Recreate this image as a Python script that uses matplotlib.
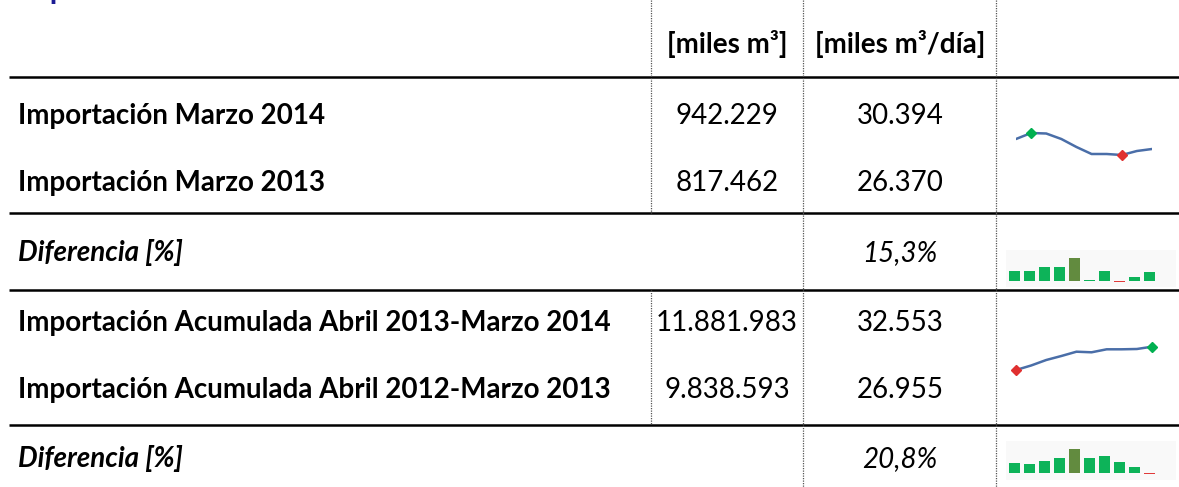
#!/usr/bin/env python3
"""
Tabla de importación con sparklines
"""

import matplotlib.pyplot as plt
import numpy as np

W, H = 1179, 487

row_labels = ["Importación Marzo 2014", "Importación Marzo 2013", "Diferencia [%]",
              "Importación Acumulada Abril 2013-Marzo 2014",
              "Importación Acumulada Abril 2012-Marzo 2013", "Diferencia [%]"]
row_italic = [False, False, True, False, False, True]
col_headers = ["[miles m³]", "[miles m³/día]"]
vol_values = ["942.229", "817.462", "", "11.881.983", "9.838.593", ""]
daily_values = ["30.394", "26.370", "15,3%", "32.553", "26.955", "20,8%"]

# sparkline values (relative units)
spark_marzo = [21, 27, 26.5, 21, 13, 6, 6, 5, 9, 11]
spark_acum = [10, 14.5, 20, 24, 28.3, 27.7, 30.7, 30.7, 31, 33.3]
diff_marzo = [10, 10, 14, 14, 23, 1, 10, -1, 4, 9]
diff_acum = [10, 9, 11.3, 14.7, 23.3, 14.3, 16.7, 10.3, 6, -1]

FONT = "Lato"
LINE_C = "#4a6ea8"
GREEN = "#00b050"
OLIVE = "#5a8535"
RED = "#e03030"


def px_axes(fig, x0, y0, x1, y1):
    """axes placed with pixel box (top-down image coords)"""
    return fig.add_axes([x0 / W, 1 - y1 / H, (x1 - x0) / W, (y1 - y0) / H])


def clean(ax, face=None):
    for s in ax.spines.values():
        s.set_visible(False)
    ax.set_xticks([])
    ax.set_yticks([])
    if face:
        ax.set_facecolor(face)
    else:
        ax.patch.set_alpha(0)


def line_spark(fig, box, vals, ylim):
    ax = px_axes(fig, *box)
    clean(ax)
    x = np.arange(len(vals))
    ax.plot(x, vals, color=LINE_C, lw=1.8, solid_capstyle='round')
    imax, imin = int(np.argmax(vals)), int(np.argmin(vals))
    ax.plot(x[imax], vals[imax], 'D', color=GREEN, ms=5, clip_on=False)
    ax.plot(x[imin], vals[imin], 'D', color=RED, ms=5, clip_on=False)
    ax.set_xlim(0, len(vals) - 1)
    ax.set_ylim(*ylim)


def bar_spark(fig, box, vals, ylim):
    ax = px_axes(fig, *box)
    clean(ax, face="#f9f9f9")
    imax = int(np.argmax(vals))
    colors = [RED if v < 0 else (OLIVE if i == imax else GREEN) for i, v in enumerate(vals)]
    ax.bar(np.arange(len(vals)), vals, width=0.73, color=colors, alpha=0.95)
    ax.set_xlim(-0.567, 10.767)
    ax.set_ylim(*ylim)


fig = plt.figure(figsize=(W / 100, H / 100), dpi=100)
ax = fig.add_axes([0, 0, 1, 1])
ax.set_xlim(0, W)
ax.set_ylim(H, 0)
ax.axis('off')

# title, cut off at the top of the picture (only the descender shows)
ax.text(15, -0.5, "Importación", fontsize=22, fontweight='bold', color='#1c1c94',
        family=FONT, va='baseline', ha='left')

# horizontal rules
for y in [77, 213, 290, 425]:
    ax.plot([9, W], [y, y], color='black', lw=1.8, solid_capstyle='butt')

# dotted column borders
dot = dict(color='#555555', lw=0.9, ls=(0, (1, 1)))
ax.plot([651, 651], [0, 213], **dot)
ax.plot([651, 651], [290, 425], **dot)
ax.plot([803, 803], [0, H], **dot)
ax.plot([996, 996], [0, H], **dot)

fs = 20
col1_x, col2_x = 727, 900
ax.text(col1_x, 53, col_headers[0], ha='center', va='baseline', fontsize=fs,
        fontweight='bold', family=FONT)
ax.text(col2_x, 53, col_headers[1], ha='center', va='baseline', fontsize=fs,
        fontweight='bold', family=FONT)

baselines = [124, 191, 261, 331, 398, 467]
for lab, it, v1, v2, yb in zip(row_labels, row_italic, vol_values, daily_values, baselines):
    style = 'italic' if it else 'normal'
    ax.text(18, yb, lab, ha='left', va='baseline', fontsize=fs, fontweight='bold',
            fontstyle=style, family=FONT)
    if v1:
        ax.text(col1_x, yb, v1, ha='center', va='baseline', fontsize=fs, family=FONT)
    ax.text(col2_x, yb, v2, ha='center', va='baseline', fontsize=fs,
            fontstyle=style, family=FONT)

line_spark(fig, (1016, 130, 1152, 160), spark_marzo, (0, 30))
line_spark(fig, (1016, 340, 1152, 380), spark_acum, (0, 40))
bar_spark(fig, (1006, 250, 1176, 287), diff_marzo, (-6, 31))
bar_spark(fig, (1006, 441, 1176, 480), diff_acum, (-7.3, 31.7))

fig.savefig("out.png", dpi=100)
